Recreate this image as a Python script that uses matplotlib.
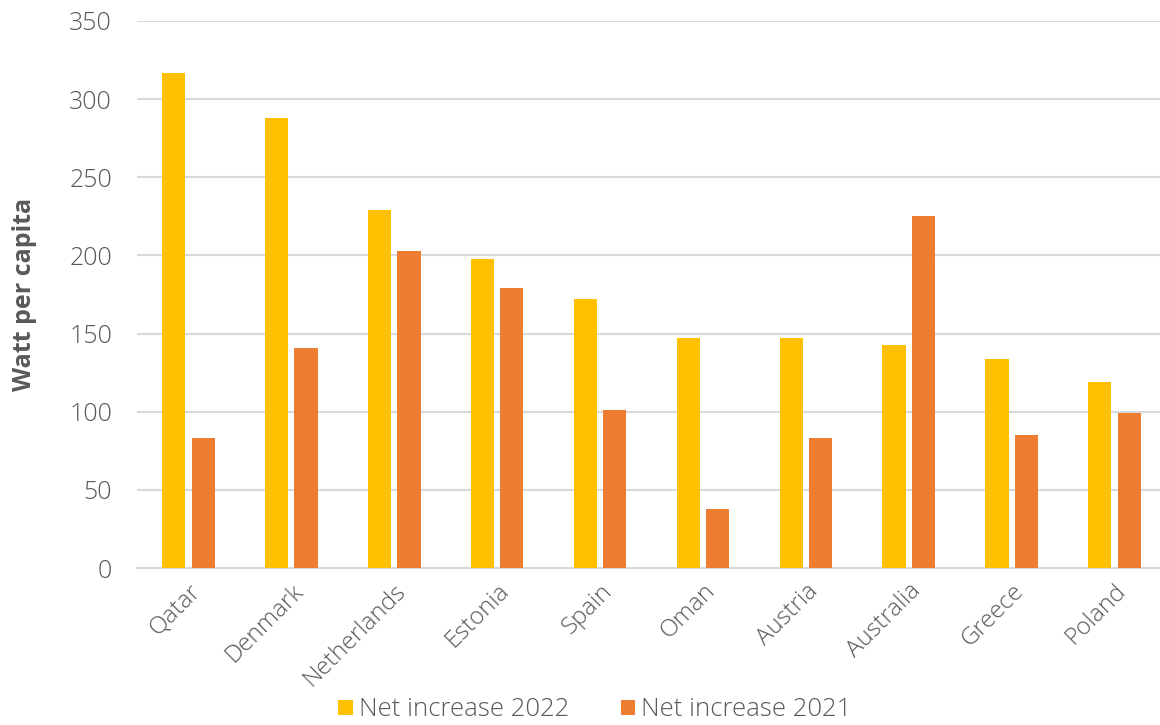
import numpy as np
import matplotlib
matplotlib.use("Agg")
import matplotlib.pyplot as plt

countries = ["Qatar", "Denmark", "Netherlands", "Estonia", "Spain",
             "Oman", "Austria", "Australia", "Greece", "Poland"]
net_2022 = [317, 288, 229, 198, 172, 147, 147, 143, 134, 119]
net_2021 = [83, 141, 203, 179, 101, 38, 83, 225, 85, 99]
yticks = [0, 50, 100, 150, 200, 250, 300, 350]

plt.rcParams["font.family"] = ["Open Sans", "DejaVu Sans"]
grey = "#595959"

fig = plt.figure(figsize=(11.6, 7.25), dpi=100)
ax = fig.add_axes([137 / 1160, 1 - 568 / 725, 1029 / 1160, 547 / 725])

x = np.arange(len(countries))
w = 0.225
ax.bar(x - 0.143, net_2022, w, color="#ffc000", label="Net increase 2022", zorder=3)
ax.bar(x + 0.143, net_2021, w, color="#ed7d31", label="Net increase 2021", zorder=3)

ax.set_xlim(-0.5, 9.5)
ax.set_ylim(0, 350)
ax.set_yticks(yticks)
ax.set_yticklabels([str(v) for v in yticks], fontsize=18, color=grey, fontweight="light")
ax.set_xticks(x)
ax.set_xticklabels(countries, rotation=45, ha="right", rotation_mode="anchor",
                   fontsize=17.5, color=grey, fontweight="light")
ax.tick_params(axis="y", length=0, pad=18)
ax.tick_params(axis="x", length=0, pad=8)
ax.grid(axis="y", color="#d9d9d9", linewidth=1.5, zorder=0)
for s in ["top", "right", "left"]:
    ax.spines[s].set_visible(False)
ax.spines["bottom"].set_color("#d9d9d9")
ax.spines["bottom"].set_linewidth(1.5)

ax.set_ylabel("Watt per capita", fontsize=18, fontweight="bold", color=grey)
ax.yaxis.set_label_coords(-0.097, 0.5)

fig.legend(loc="center", bbox_to_anchor=(595 / 1160, 1 - 710 / 725), ncol=2, frameon=False,
           handlelength=0.55, handleheight=0.55, handletextpad=0.25, columnspacing=2.0,
           prop={"size": 18.5, "weight": "light"}, labelcolor=grey)

fig.savefig("out.png", dpi=100)
